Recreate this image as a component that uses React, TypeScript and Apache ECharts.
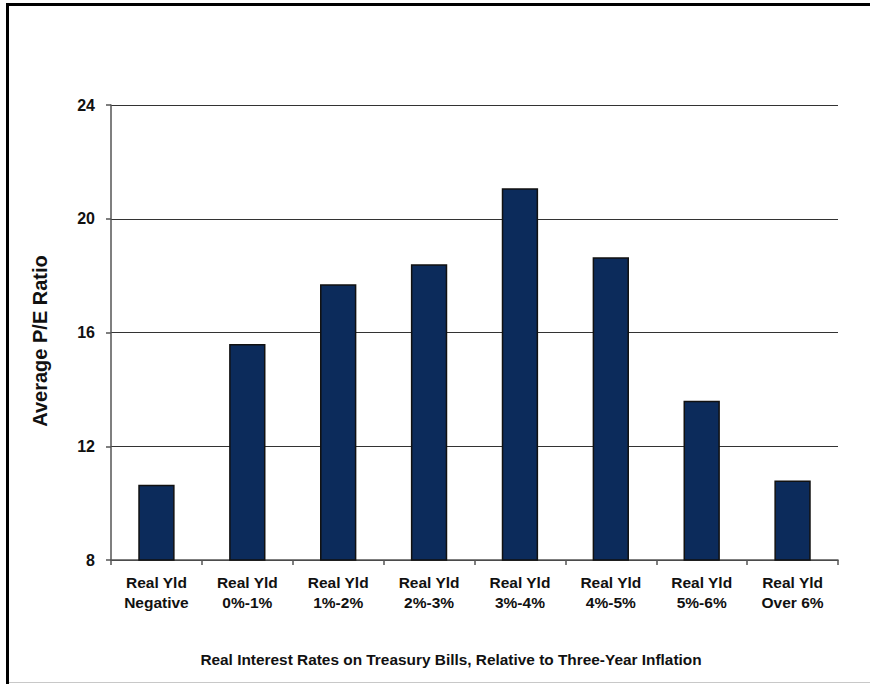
import React, { useEffect, useRef } from "react";
import * as echarts from "echarts";

const categories = [
  "Real Yld\nNegative",
  "Real Yld\n0%-1%",
  "Real Yld\n1%-2%",
  "Real Yld\n2%-3%",
  "Real Yld\n3%-4%",
  "Real Yld\n4%-5%",
  "Real Yld\n5%-6%",
  "Real Yld\nOver 6%",
];
const peValues = [10.65, 15.6, 17.7, 18.4, 21.07, 18.65, 13.6, 10.8];
const yTicks = { min: 8, max: 24, interval: 4 };
const yTitle = "Average P/E Ratio";
const xTitle = "Real Interest Rates on Treasury Bills, Relative to Three-Year Inflation";

const FONT = "'Liberation Sans', Arial, sans-serif";

export default function App() {
  const ref = useRef<HTMLDivElement>(null);
  useEffect(() => {
    document.body.style.margin = "0";
    const chart = echarts.init(ref.current!, null, { renderer: "svg" });
    chart.setOption({
      animation: false,
      backgroundColor: "#ffffff",
      grid: { left: 111, right: 32, top: 105, bottom: 124 },
      xAxis: {
        type: "category",
        data: categories,
        axisLine: { lineStyle: { color: "#555", width: 1.5 } },
        axisTick: { show: true, length: 5, alignWithLabel: false, lineStyle: { color: "#555", width: 1.5 } },
        axisLabel: {
          margin: 12,
          fontFamily: FONT,
          fontWeight: "bold",
          fontSize: 15.5,
          lineHeight: 20,
          color: "#111",
          interval: 0,
        },
      },
      yAxis: {
        type: "value",
        min: yTicks.min,
        max: yTicks.max,
        interval: yTicks.interval,
        axisLine: { show: true, lineStyle: { color: "#555", width: 1.5 } },
        axisTick: { show: true, length: 5, lineStyle: { color: "#555", width: 1.5 } },
        axisLabel: {
          margin: 16,
          fontFamily: FONT,
          fontWeight: "bold",
          fontSize: 16,
          color: "#111",
        },
        splitLine: { show: true, lineStyle: { color: "#333", width: 1 } },
      },
      series: [
        {
          type: "bar",
          data: peValues,
          barWidth: "40%",
          itemStyle: { color: "#0c2b5b", borderColor: "#111", borderWidth: 1.5 },
        },
      ],
      graphic: [
        { type: "line", shape: { x1: 7.5, y1: 3, x2: 7.5, y2: 684 }, style: { stroke: "#000", lineWidth: 3 } },
        { type: "line", shape: { x1: 6, y1: 4.5, x2: 870, y2: 4.5 }, style: { stroke: "#000", lineWidth: 3 } },
        { type: "line", shape: { x1: 9, y1: 682.5, x2: 870, y2: 682.5 }, style: { stroke: "#c8c8c8", lineWidth: 1 } },
        {
          type: "text",
          x: 40,
          y: 341,
          rotation: Math.PI / 2,
          style: {
            text: yTitle,
            fontFamily: FONT,
            fontWeight: "bold",
            fontSize: 20,
            fill: "#111",
            align: "center",
            verticalAlign: "middle",
          },
        },
        {
          type: "text",
          x: 451,
          y: 659,
          style: {
            text: xTitle,
            fontFamily: FONT,
            fontWeight: "bold",
            fontSize: 15.4,
            fill: "#111",
            align: "center",
            verticalAlign: "middle",
          },
        },
      ],
    });
    return () => chart.dispose();
  }, []);
  return <div ref={ref} style={{ width: 870, height: 684 }} />;
}
